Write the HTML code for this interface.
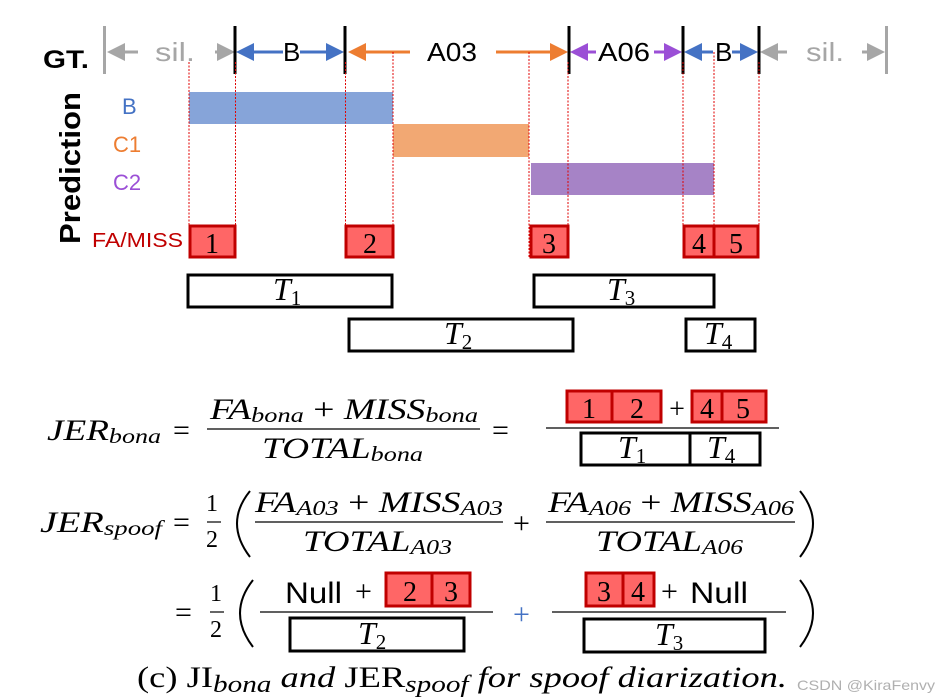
<!DOCTYPE html>
<html><head><meta charset="utf-8"><style>
html,body{margin:0;padding:0;background:#fff;}
svg{display:block;}
.m{font-family:"Liberation Serif",serif;font-style:italic;}
.r{font-family:"Liberation Serif",serif;}
.s{font-family:"Liberation Sans",sans-serif;}
</style></head><body>
<svg width="940" height="698" viewBox="0 0 940 698" xmlns="http://www.w3.org/2000/svg">
<defs>
<marker id="ag" markerWidth="6" markerHeight="6" refX="5" refY="3" orient="auto" markerUnits="strokeWidth"><path d="M0,0 L6,3 L0,6z" fill="#a6a6a6"/></marker>
<marker id="ab" markerWidth="6" markerHeight="6" refX="5" refY="3" orient="auto" markerUnits="strokeWidth"><path d="M0,0 L6,3 L0,6z" fill="#4472c4"/></marker>
<marker id="ao" markerWidth="6" markerHeight="6" refX="5" refY="3" orient="auto" markerUnits="strokeWidth"><path d="M0,0 L6,3 L0,6z" fill="#ed7d31"/></marker>
<marker id="ap" markerWidth="6" markerHeight="6" refX="5" refY="3" orient="auto" markerUnits="strokeWidth"><path d="M0,0 L6,3 L0,6z" fill="#9b4fd6"/></marker>
</defs>
<!-- GT -->
<text x="43" y="68" class="s" font-weight="bold" font-size="25" textLength="46" lengthAdjust="spacingAndGlyphs">GT.</text>
<rect x="103" y="26" width="3" height="48" fill="#a6a6a6"/>
<rect x="885" y="26" width="3" height="48" fill="#a6a6a6"/>
<g stroke-width="3" fill="none">
<line x1="138" y1="52" x2="110" y2="52" stroke="#a6a6a6" marker-end="url(#ag)"/>
<line x1="215" y1="52" x2="232" y2="52" stroke="#a6a6a6" marker-end="url(#ag)"/>
<line x1="283" y1="52" x2="239" y2="52" stroke="#4472c4" marker-end="url(#ab)"/>
<line x1="300" y1="52" x2="341" y2="52" stroke="#4472c4" marker-end="url(#ab)"/>
<line x1="410" y1="52" x2="351" y2="52" stroke="#ed7d31" marker-end="url(#ao)"/>
<line x1="496" y1="52" x2="565" y2="52" stroke="#ed7d31" marker-end="url(#ao)"/>
<line x1="596" y1="52" x2="573" y2="52" stroke="#9b4fd6" marker-end="url(#ap)"/>
<line x1="654" y1="52" x2="679" y2="52" stroke="#9b4fd6" marker-end="url(#ap)"/>
<line x1="713" y1="52" x2="687" y2="52" stroke="#4472c4" marker-end="url(#ab)"/>
<line x1="732" y1="52" x2="755" y2="52" stroke="#4472c4" marker-end="url(#ab)"/>
<line x1="787" y1="52" x2="763" y2="52" stroke="#a6a6a6" marker-end="url(#ag)"/>
<line x1="862" y1="52" x2="882" y2="52" stroke="#a6a6a6" marker-end="url(#ag)"/>
</g>
<g fill="#000"><rect x="233.5" y="26" width="3" height="48"/><rect x="343.5" y="26" width="3" height="48"/><rect x="567.5" y="26" width="3" height="48"/><rect x="681.5" y="26" width="3" height="48"/><rect x="757.5" y="26" width="3" height="48"/></g>
<g class="s" font-size="26">
<text x="155" y="61" fill="#a6a6a6" textLength="40" lengthAdjust="spacingAndGlyphs">sil.</text>
<text x="283" y="61">B</text>
<text x="427" y="61" textLength="50" lengthAdjust="spacingAndGlyphs">A03</text>
<text x="598" y="61" textLength="52" lengthAdjust="spacingAndGlyphs">A06</text>
<text x="715" y="61">B</text>
<text x="806" y="61" fill="#a6a6a6" textLength="38" lengthAdjust="spacingAndGlyphs">sil.</text>
</g>
<!-- prediction -->
<text transform="translate(80,244) rotate(-90)" class="s" font-weight="bold" font-size="29" textLength="152" lengthAdjust="spacingAndGlyphs">Prediction</text>
<g class="s" font-size="22">
<text x="122" y="114" fill="#4472c4">B</text>
<text x="113" y="152" fill="#ed7d31">C1</text>
<text x="113" y="190" fill="#9b4fd6">C2</text>
<text x="92" y="247" fill="#c00000" font-size="20" textLength="91" lengthAdjust="spacingAndGlyphs">FA/MISS</text>
</g>
<rect x="189" y="92" width="204" height="32" fill="#7f9fd7" opacity="0.95"/>
<rect x="393" y="124" width="136" height="33" fill="#f2a873"/>
<rect x="531" y="163" width="183" height="32" fill="#a683c6"/>
<g stroke="#e00000" stroke-width="1" stroke-dasharray="2,1.5">
<line x1="189" y1="62" x2="189" y2="258"/><line x1="235.5" y1="62" x2="235.5" y2="258"/>
<line x1="345.5" y1="62" x2="345.5" y2="258"/><line x1="393" y1="52" x2="393" y2="258"/>
<line x1="529" y1="52" x2="529" y2="258"/><line x1="568" y1="62" x2="568" y2="258"/>
<line x1="683" y1="62" x2="683" y2="258"/><line x1="714" y1="52" x2="714" y2="258"/>
<line x1="759" y1="62" x2="759" y2="258"/>
</g>
<g fill="#ff6666" stroke="#c00000" stroke-width="3">
<rect x="190" y="226" width="45" height="31"/><rect x="346" y="226" width="47" height="31"/>
<rect x="531" y="226" width="37" height="31"/><rect x="684" y="226" width="30" height="31"/><rect x="714" y="226" width="44" height="31"/>
</g>
<g class="r" font-size="28" text-anchor="middle">
<text x="212" y="253">1</text><text x="370" y="253">2</text><text x="549" y="253">3</text><text x="699" y="253">4</text><text x="736" y="253">5</text>
</g>
<!-- T boxes -->
<g fill="none" stroke="#000" stroke-width="3">
<rect x="188" y="275" width="204" height="32"/><rect x="534" y="275" width="180" height="32"/>
<rect x="349" y="319" width="224" height="32"/><rect x="686" y="319" width="69" height="32"/>
</g>
<g class="m" font-size="32">
<text x="273" y="300">T<tspan class="r" font-style="normal" font-size="21" dy="5">1</tspan></text>
<text x="607" y="300">T<tspan class="r" font-style="normal" font-size="21" dy="5">3</tspan></text>
<text x="444" y="344">T<tspan class="r" font-style="normal" font-size="21" dy="5">2</tspan></text>
<text x="704" y="344">T<tspan class="r" font-style="normal" font-size="21" dy="5">4</tspan></text>
</g>
<!-- formula 1 -->
<g class="m" font-size="30">
<text x="47" y="440" textLength="114" lengthAdjust="spacingAndGlyphs">JER<tspan font-size="21" dy="3">bona</tspan></text>
<text x="210" y="419" textLength="268" lengthAdjust="spacingAndGlyphs">FA<tspan font-size="21" dy="3">bona</tspan><tspan dy="-3" class="r" font-style="normal"> + </tspan>MISS<tspan font-size="21" dy="3">bona</tspan></text>
<text x="262" y="458" textLength="161" lengthAdjust="spacingAndGlyphs">TOTAL<tspan font-size="21" dy="3">bona</tspan></text>
</g>
<g class="r" font-size="30"><text x="173" y="440">=</text><text x="492" y="440">=</text></g>
<line x1="207" y1="429" x2="480" y2="429" stroke="#000" stroke-width="1.3"/>
<line x1="546" y1="428" x2="779" y2="428" stroke="#000" stroke-width="1.3"/>
<g fill="#ff6666" stroke="#c00000" stroke-width="3">
<rect x="567" y="391" width="45" height="31"/><rect x="612" y="391" width="49" height="31"/>
<rect x="692" y="391" width="30" height="31"/><rect x="722" y="391" width="44" height="31"/>
</g>
<g class="r" font-size="28" text-anchor="middle">
<text x="589" y="418">1</text><text x="637" y="418">2</text><text x="677" y="418">+</text><text x="707" y="418">4</text><text x="743" y="418">5</text>
</g>
<g fill="none" stroke="#000" stroke-width="3"><rect x="581" y="433" width="109" height="32"/><rect x="690" y="433" width="70" height="32"/></g>
<g class="m" font-size="32">
<text x="618" y="458">T<tspan class="r" font-style="normal" font-size="21" dy="5">1</tspan></text>
<text x="707" y="458">T<tspan class="r" font-style="normal" font-size="21" dy="5">4</tspan></text>
</g>
<!-- formula 2 -->
<g class="m" font-size="30">
<text x="40" y="532" textLength="122" lengthAdjust="spacingAndGlyphs">JER<tspan font-size="21" dy="3">spoof</tspan></text>
<text x="255" y="512" textLength="248" lengthAdjust="spacingAndGlyphs">FA<tspan font-size="21" dy="3">A03</tspan><tspan dy="-3" class="r" font-style="normal"> + </tspan>MISS<tspan font-size="21" dy="3">A03</tspan></text>
<text x="303" y="551" textLength="149" lengthAdjust="spacingAndGlyphs">TOTAL<tspan font-size="21" dy="3">A03</tspan></text>
<text x="548" y="512" textLength="246" lengthAdjust="spacingAndGlyphs">FA<tspan font-size="21" dy="3">A06</tspan><tspan dy="-3" class="r" font-style="normal"> + </tspan>MISS<tspan font-size="21" dy="3">A06</tspan></text>
<text x="596" y="551" textLength="147" lengthAdjust="spacingAndGlyphs">TOTAL<tspan font-size="21" dy="3">A06</tspan></text>
</g>
<g class="r">
<text x="173" y="532" font-size="30">=</text>
<text x="206" y="511" font-size="24">1</text><text x="206" y="547" font-size="24">2</text>
<text x="513" y="533" font-size="30">+</text>
</g>
<g fill="none" stroke="#000" stroke-width="2">
<path d="M250,491 Q224,523 250,557"/><path d="M800,491 Q826,523 800,557"/>
<path d="M253,580 Q227,613 253,647"/><path d="M800,580 Q826,613 800,647"/>
</g>
<line x1="207" y1="522" x2="221" y2="522" stroke="#000" stroke-width="1.2"/>
<line x1="255" y1="522" x2="503" y2="522" stroke="#000" stroke-width="1.3"/>
<line x1="546" y1="522" x2="795" y2="522" stroke="#000" stroke-width="1.3"/>
<!-- formula 3 -->
<g class="r">
<text x="175" y="622" font-size="30">=</text>
<text x="210" y="601" font-size="24">1</text><text x="210" y="637" font-size="24">2</text>
<text x="513" y="624" font-size="30" fill="#4472c4">+</text>
<text x="355" y="601" font-size="30">+</text>
<text x="661" y="601" font-size="30">+</text>
</g>
<line x1="210" y1="612" x2="224" y2="612" stroke="#000" stroke-width="1.2"/>
<line x1="260" y1="612" x2="493" y2="612" stroke="#000" stroke-width="1.3"/>
<line x1="552" y1="612" x2="786" y2="612" stroke="#000" stroke-width="1.3"/>
<g class="s" font-size="30"><text x="285" y="603" textLength="57" lengthAdjust="spacingAndGlyphs">Null</text><text x="690" y="603" textLength="58" lengthAdjust="spacingAndGlyphs">Null</text></g>
<g fill="#ff6666" stroke="#c00000" stroke-width="3">
<rect x="386" y="573" width="46" height="33"/><rect x="432" y="573" width="38" height="33"/>
<rect x="586" y="573" width="37" height="33"/><rect x="623" y="573" width="31" height="33"/>
</g>
<g class="r" font-size="28" text-anchor="middle">
<text x="410" y="601">2</text><text x="451" y="601">3</text><text x="604" y="601">3</text><text x="638" y="601">4</text>
</g>
<g fill="none" stroke="#000" stroke-width="3"><rect x="290" y="618" width="174" height="33"/><rect x="584" y="619" width="181" height="33"/></g>
<g class="m" font-size="32">
<text x="358" y="644">T<tspan class="r" font-style="normal" font-size="21" dy="5">2</tspan></text>
<text x="655" y="645">T<tspan class="r" font-style="normal" font-size="21" dy="5">3</tspan></text>
</g>
<!-- caption -->
<text x="137" y="687" class="r" font-size="30" textLength="650" lengthAdjust="spacingAndGlyphs">(c) JI<tspan class="m" font-size="24" dy="5">bona</tspan><tspan dy="-5" class="m"> and </tspan>JER<tspan class="m" font-size="24" dy="5">spoof</tspan><tspan dy="-5" class="m"> for spoof diarization.</tspan></text>
<text x="797" y="690" class="s" font-size="14" fill="#b0b0b0" textLength="138" lengthAdjust="spacingAndGlyphs">CSDN @KiraFenvy</text>
</svg>
</body></html>
